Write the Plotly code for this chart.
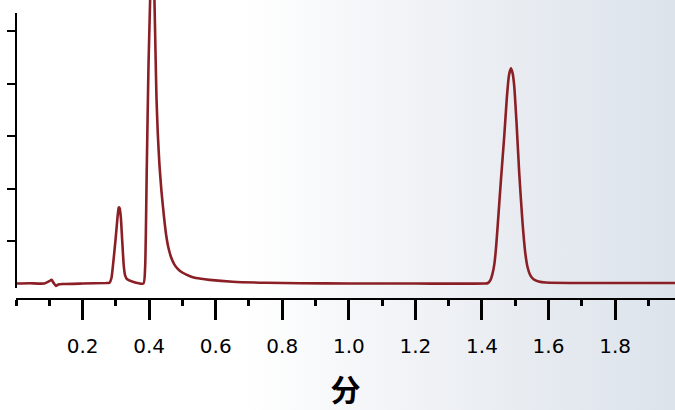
import plotly.graph_objects as go

# ---- data ----
time_min = [0.000, 0.040, 0.085, 0.100, 0.107, 0.113, 0.120, 0.127, 0.140, 0.200,
            0.270, 0.281, 0.287, 0.291, 0.299, 0.305, 0.3085, 0.310, 0.3115, 0.315,
            0.319, 0.324, 0.328, 0.334, 0.351, 0.383, 0.388, 0.393, 0.398, 0.403,
            0.409, 0.416, 0.419, 0.422, 0.426, 0.431, 0.437, 0.444, 0.451, 0.458,
            0.466, 0.476, 0.486, 0.496, 0.512, 0.531, 0.556, 0.581, 0.651, 0.752,
            0.852, 1.000, 1.200, 1.410, 1.418, 1.425, 1.431, 1.437, 1.442, 1.447,
            1.457, 1.467, 1.475, 1.481, 1.487, 1.492, 1.497, 1.504, 1.512, 1.522,
            1.530, 1.537, 1.545, 1.555, 1.570, 1.592, 1.722, 1.980]
signal = [0.19, 0.195, 0.19, 0.235, 0.26, 0.20, 0.145, 0.17, 0.18, 0.19,
          0.20, 0.206, 0.30, 0.51, 1.02, 1.45, 1.63, 1.64, 1.62, 1.45,
          1.02, 0.51, 0.34, 0.27, 0.225, 0.19, 0.51, 2.42, 4.32, 5.6,
          7.5, 5.59, 4.64, 3.75, 3.05, 2.45, 1.95, 1.50, 1.12, 0.87,
          0.69, 0.55, 0.47, 0.415, 0.36, 0.31, 0.28, 0.26, 0.225, 0.205,
          0.195, 0.19, 0.19, 0.19, 0.20, 0.25, 0.36, 0.55, 0.85, 1.27,
          2.16, 3.00, 3.75, 4.15, 4.29, 4.20, 3.95, 3.24, 2.29, 1.34,
          0.78, 0.50, 0.35, 0.27, 0.23, 0.21, 0.20, 0.20]

x_tick_vals = [0.2, 0.4, 0.6, 0.8, 1.0, 1.2, 1.4, 1.6, 1.8]
x_tick_text = ["0.2", "0.4", "0.6", "0.8", "1.0", "1.2", "1.4", "1.6", "1.8"]
y_tick_vals = [1, 2, 3, 4, 5]
x_title = "分"

W, H = 675, 410
ML, MT, MB = 16, 0, 112
plot_w = W - ML
plot_h = H - MT - MB

line_color = "#8A1F26"

fig = go.Figure()
fig.add_trace(go.Scatter(x=time_min, y=signal, mode="lines",
                         line=dict(color=line_color, width=2.6, shape="spline", smoothing=0.5),
                         hoverinfo="skip", showlegend=False))
# helper trace so the separate visible y-axis is drawn
fig.add_trace(go.Scatter(x=[None], y=[None], yaxis="y2", mode="lines",
                         showlegend=False, hoverinfo="skip"))

# background gradient (svg)
svg = ("data:image/svg+xml;utf8,"
       "<svg xmlns='http://www.w3.org/2000/svg' width='675' height='410' preserveAspectRatio='none'>"
       "<defs><linearGradient id='g' x1='0' y1='0' x2='1' y2='0'>"
       "<stop offset='0' stop-color='%23ffffff'/>"
       "<stop offset='0.36' stop-color='%23ffffff'/>"
       "<stop offset='0.6' stop-color='%23f1f3f6'/>"
       "<stop offset='1' stop-color='%23dce3eb'/>"
       "</linearGradient></defs>"
       "<rect width='675' height='410' fill='url(%23g)'/></svg>")

fig.add_layout_image(dict(source=svg, xref="paper", yref="paper",
                          x=-ML / plot_w, y=1 + MT / plot_h,
                          sizex=W / plot_w, sizey=H / plot_h,
                          sizing="stretch", xanchor="left", yanchor="top",
                          layer="below"))

# y scale: 52.5 px per unit, y=0 at pixel 293.5
px_per_unit = 52.5
y0_px = 293.5
y_top = y0_px / px_per_unit
y_bot = (y0_px - plot_h) / px_per_unit
axis_top_px, axis_bot_px = 13, 288

fig.update_layout(
    width=W, height=H,
    margin=dict(l=ML, r=0, t=MT, b=MB, pad=0),
    paper_bgcolor="white",
    plot_bgcolor="rgba(0,0,0,0)",
    font=dict(family="'DejaVu Sans', sans-serif", color="black"),
    xaxis=dict(range=[0, 1.98], showgrid=False, zeroline=False,
               showline=True, linecolor="black", linewidth=2.2,
               ticks="outside", ticklen=20, tickwidth=2.6, tickcolor="black",
               tickmode="array", tickvals=x_tick_vals, ticktext=x_tick_text,
               tickfont=dict(size=20, color="black"),
               ticklabelstandoff=9,
               minor=dict(ticks="outside", ticklen=6, tickwidth=2.6,
                          tickcolor="black", tick0=0, dtick=0.1, showgrid=False),
               title=dict(text=x_title, standoff=24,
                          font=dict(size=30, color="black", weight="bold",
                                    family="'Noto Sans CJK SC', sans-serif")),
               fixedrange=True),
    yaxis=dict(range=[y_bot, y_top], domain=[0, 1], visible=False,
               showgrid=False, zeroline=False, fixedrange=True),
    yaxis2=dict(domain=[(plot_h - axis_bot_px) / plot_h, (plot_h - axis_top_px) / plot_h],
                range=[(y0_px - axis_bot_px) / px_per_unit, (y0_px - axis_top_px) / px_per_unit],
                anchor="free", position=0,
                showgrid=False, zeroline=False,
                showline=True, linecolor="black", linewidth=2.2,
                ticks="outside", ticklen=8, tickwidth=2.2, tickcolor="black",
                tickmode="array", tickvals=y_tick_vals, showticklabels=False,
                fixedrange=True),
)

fig.write_html("out.html", config={"displayModeBar": False},
               post_script="document.body.style.margin='0';")
